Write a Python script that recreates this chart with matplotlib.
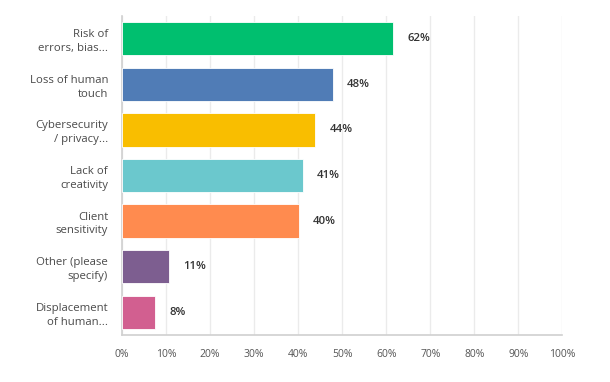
import matplotlib.pyplot as plt
import numpy as np

plt.rcParams['font.family'] = ['Open Sans', 'DejaVu Sans']

categories = ['Risk of\nerrors, bias...', 'Loss of human\ntouch', 'Cybersecurity\n/ privacy...',
              'Lack of\ncreativity', 'Client\nsensitivity', 'Other (please\nspecify)',
              'Displacement\nof human...']
values = [61.6, 47.8, 43.9, 41.1, 40.2, 10.6, 7.6]
colors = ['#00BF6F', '#507CB6', '#F9BE00', '#6BC8CD', '#FF8B4F', '#7D5E90', '#D25F90']
ticks = np.arange(0, 101, 10)

fig = plt.figure(figsize=(6.1, 3.82), dpi=100)
ax = fig.add_axes([0.2, 0.123, 0.722, 0.835])

y = np.arange(len(categories))
ax.barh(y, values, height=0.73, color=colors, edgecolor='white', linewidth=0.6, zorder=3)
for yi, v in zip(y, values):
    ax.text(v + 3.2, yi, f'{v:.0f}%', va='center', ha='left', fontsize=8.2,
            color='#333333', fontweight='semibold')

ax.set_xlim(0, 100)
ax.set_ylim(len(categories) - 0.5, -0.5)
ax.set_yticks(y)
ax.set_yticklabels(categories, fontsize=8.2, color='#4a4a4a', linespacing=1.35)
ax.set_xticks(ticks)
ax.set_xticklabels([f'{t}%' for t in ticks], fontsize=7.5, color='#555555')
ax.tick_params(axis='both', length=0)
ax.tick_params(axis='y', pad=10)
ax.tick_params(axis='x', pad=10)
ax.grid(axis='x', color='#ebebeb', linewidth=1, zorder=0)
for s in ['top', 'right']:
    ax.spines[s].set_visible(False)
for s in ['left', 'bottom']:
    ax.spines[s].set_color('#d0d0d0')
    ax.spines[s].set_linewidth(1.2)

fig.savefig('out.png', dpi=100)
